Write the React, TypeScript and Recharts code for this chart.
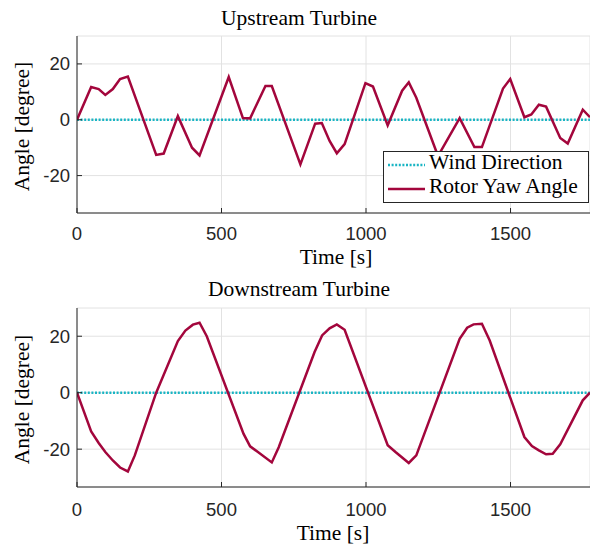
import { LineChart, Line, XAxis, YAxis, CartesianGrid, Legend } from 'recharts'

// upstream turbine, rotor yaw angle [degree] vs time [s]
const upTime = [
  0, 49, 75, 98, 124, 149, 176, 274, 300, 349, 398, 424, 525, 574, 599, 652, 674,
  773, 824, 847, 874, 899, 926, 998, 1024, 1075, 1125, 1148, 1174, 1249, 1324,
  1375, 1401, 1474, 1499, 1548, 1572, 1598, 1623, 1672, 1698, 1750, 1775,
]
const upYaw = [
  0, 11.7, 11, 8.9, 11, 14.6, 15.5, -12.6, -12.1, 1.3, -10, -12.8, 15.3, 0.6, 0.5,
  12.1, 12.1, -16, -1.4, -1.2, -7.6, -12, -8.7, 13.1, 11.9, -2, 10.4, 13.4, 7.9,
  -13, 0.6, -9.8, -9.8, 11.2, 14.6, 0.9, 1.9, 5.4, 4.7, -6.5, -8.5, 3.6, 0.9,
]

// downstream turbine
const downTime = [
  0, 49, 75, 98, 124, 149, 176, 200, 274, 349, 375, 401, 424, 449, 576, 599, 626,
  674, 698, 822, 848, 874, 899, 926, 1075, 1102, 1148, 1174, 1324, 1350, 1372,
  1401, 1428, 1548, 1574, 1598, 1623, 1646, 1672, 1750, 1775,
]
const downYaw = [
  0, -13.7, -17.8, -21, -24, -26.5, -27.9, -22.2, 0, 18.3, 22, 24.1, 24.8, 20,
  -14.5, -19, -21, -24.7, -19.3, 14.4, 20.3, 22.8, 24.2, 22.3, -18.6, -21, -24.9,
  -22.2, 19.1, 23, 24.2, 24.4, 18.5, -15.7, -18.9, -20.4, -21.8, -21.6, -18.3,
  -2.7, 0,
]

const windDirection = 0 // wind direction stays at 0 degree

const xTicks = [0, 500, 1000, 1500]
const yTicks = [-20, 0, 20]

const RED = '#a3063c'
const CYAN = '#19b5c4'
const AXIS = '#262626'
const SERIF = '"Liberation Serif", "Times New Roman", serif'
const SANS = '"Liberation Sans", Arial, sans-serif'

const toRows = (time: number[], yaw: number[]) =>
  time.map((t, i) => ({ t, yaw: yaw[i], wind: windDirection }))

const YTick = ({ x, y, payload }: any) => (
  <g>
    <line x1={x} x2={x + 5} y1={y} y2={y} stroke={AXIS} />
    <text x={x - 7} y={y + 6.5} textAnchor='end' fontSize={18.5} fontFamily={SANS} fill={AXIS}>
      {payload.value}
    </text>
  </g>
)

const XTick = ({ x, y, payload, gap }: any) => (
  <g>
    <line x1={x} x2={x} y1={y} y2={y - 5} stroke={AXIS} />
    <text x={x} y={y + gap} textAnchor='middle' fontSize={18.5} fontFamily={SANS} fill={AXIS}>
      {payload.value}
    </text>
  </g>
)

const LegendBox = () => (
  <svg width={206} height={52} style={{ display: 'block' }}>
    <rect x={0.5} y={0.5} width={205} height={51} fill='#fff' stroke={AXIS} />
    <line x1={5} x2={42} y1={14} y2={14} stroke={CYAN} strokeWidth={2.5} strokeDasharray='2 1.6' />
    <text x={46} y={18} fontSize={21.5} fontFamily={SERIF} fill='#000'>
      Wind Direction
    </text>
    <line x1={5} x2={42} y1={38} y2={38} stroke={RED} strokeWidth={2.5} />
    <text x={46} y={42} fontSize={21.5} fontFamily={SERIF} fill='#000'>
      Rotor Yaw Angle
    </text>
  </svg>
)

function Panel({ rows, height, bottom, gap, legend }: { rows: any[]; height: number; bottom: number; gap: number; legend?: boolean }) {
  return (
    <LineChart width={590} height={height} data={rows} margin={{ top: 36, right: 0, bottom, left: 0 }}>
      <CartesianGrid stroke='#e2e2e2' />
      <XAxis
        dataKey='t'
        type='number'
        domain={[0, 1775]}
        ticks={xTicks}
        allowDataOverflow
        height={30}
        tickSize={0}
        tickMargin={0}
        stroke={AXIS}
        tick={<XTick gap={gap} />}
      />
      <YAxis
        type='number'
        domain={[-33.4, 30]}
        ticks={yTicks}
        allowDataOverflow
        width={77}
        tickSize={0}
        tickMargin={0}
        stroke={AXIS}
        tick={<YTick />}
      />
      <Line
        dataKey='wind'
        stroke={CYAN}
        strokeWidth={2.5}
        strokeDasharray='2 1.6'
        dot={false}
        isAnimationActive={false}
      />
      <Line dataKey='yaw' stroke={RED} strokeWidth={2.5} dot={false} isAnimationActive={false} />
      {legend && (
        <Legend
          layout='horizontal'
          verticalAlign='middle'
          align='center'
          content={<LegendBox />}
          wrapperStyle={{ left: 383, top: 151, width: 206, height: 52 }}
        />
      )}
    </LineChart>
  )
}

export default function App() {
  const textStyle = { fontFamily: SERIF, fontSize: 21.5, fill: '#000' }
  return (
    <div style={{ position: 'absolute', left: 0, top: 0, width: 590, height: 549, background: '#fff' }}>
      <div style={{ position: 'absolute', left: 0, top: 0 }}>
        <Panel rows={toRows(upTime, upYaw)} height={272} bottom={29} gap={27} legend />
      </div>
      <div style={{ position: 'absolute', left: 0, top: 272 }}>
        <Panel rows={toRows(downTime, downYaw)} height={277} bottom={32} gap={28.5} />
      </div>
      <svg
        width={590}
        height={549}
        style={{ position: 'absolute', left: 0, top: 0, pointerEvents: 'none' }}
      >
        <text x={299} y={25} textAnchor='middle' {...textStyle}>Upstream Turbine</text>
        <text x={299} y={296} textAnchor='middle' {...textStyle}>Downstream Turbine</text>
        <text x={336} y={264} textAnchor='middle' {...textStyle}>Time [s]</text>
        <text x={333} y={540} textAnchor='middle' {...textStyle}>Time [s]</text>
        <text transform='translate(28.5,126.5) rotate(-90)' textAnchor='middle' {...textStyle}>
          Angle [degree]
        </text>
        <text transform='translate(28.5,399.5) rotate(-90)' textAnchor='middle' {...textStyle}>
          Angle [degree]
        </text>
      </svg>
    </div>
  )
}
